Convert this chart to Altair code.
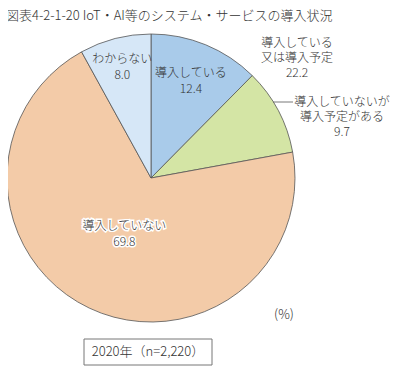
import altair as alt
import pandas as pd

# ---- data ----
categories = ["導入している", "導入していないが導入予定がある", "導入していない", "わからない"]
values = [12.4, 9.7, 69.8, 8.0]
label_texts = ["導入している\n12.4", "導入していないが\n導入予定がある\n9.7",
               "導入していない\n69.8", "わからない\n8.0"]
colors = ["#a9cbea", "#d4e5a5", "#f3cba8", "#d6e7f7"]
title_text = "図表4-2-1-20  IoT・AI等のシステム・サービスの導入状況"
group_label = "導入している\n又は導入予定\n22.2"
unit_label = "(%)"
note_label = "2020年（n=2,220）"

df = pd.DataFrame({"cat": categories, "value": values,
                   "idx": list(range(len(values))), "label": label_texts})
df["mid"] = df["value"].cumsum() - df["value"] / 2

CX, CY, R = 143, 170, 144
W, H = 389, 359
FONT = "Noto Sans CJK JP"
FW = 300
TXT = "#333333"
theta_scale = alt.Scale(domain=[0, sum(values)])

base = alt.Chart(df)

pie = base.mark_arc(radius=R, stroke="#555555", strokeWidth=0.8).encode(
    theta=alt.Theta("value:Q", stack=True, scale=theta_scale),
    color=alt.Color("cat:N", scale=alt.Scale(domain=categories, range=colors), legend=None),
    order=alt.Order("idx:Q"),
    x=alt.value(CX), y=alt.value(CY),
)

layers = [pie]
inside = {0: 105, 3: 115, 2: 62}
for i, r in inside.items():
    enc = dict(theta=alt.Theta("mid:Q", stack=None, scale=theta_scale),
               text="label:N", x=alt.value(CX), y=alt.value(CY))
    common = dict(radius=r, font=FONT, fontSize=12, fontWeight=FW, lineBreak="\n",
                  lineHeight=16, align="center", baseline="middle", dy=-8)
    if i == 2:
        layers.append(base.transform_filter(f"datum.idx == {i}").mark_text(
            color="white", stroke="white", strokeWidth=3, **common).encode(**enc))
    layers.append(base.transform_filter(f"datum.idx == {i}").mark_text(
        color=TXT, **common).encode(**enc))

# outside label with leader line for the green slice
layers.append(base.transform_filter("datum.idx == 1").mark_text(
    font=FONT, fontSize=12, fontWeight=FW, color=TXT, lineBreak="\n", lineHeight=15,
    align="center", baseline="middle").encode(text="label:N", x=alt.value(334), y=alt.value(94)))
layers.append(base.transform_filter("datum.idx == 1").mark_rule(
    color="#555555", strokeWidth=0.8).encode(x=alt.value(265), x2=alt.value(285), y=alt.value(94)))

ann = alt.Chart(pd.DataFrame({"t": [group_label]})).mark_text(
    font=FONT, fontSize=12, fontWeight=FW, color=TXT, lineBreak="\n", lineHeight=15,
    align="center", baseline="middle").encode(text="t:N", x=alt.value(289), y=alt.value(35))
layers.append(ann)

title = alt.Chart(pd.DataFrame({"t": [title_text]})).mark_text(
    font=FONT, fontSize=13, fontWeight=FW, color=TXT, align="left", baseline="top").encode(
    text="t:N", x=alt.value(-2), y=alt.value(2))
layers.append(title)

unit = alt.Chart(pd.DataFrame({"t": [unit_label]})).mark_text(
    font=FONT, fontSize=13, fontWeight=FW, color=TXT, align="center", baseline="middle").encode(
    text="t:N", x=alt.value(276), y=alt.value(307))
layers.append(unit)

box = alt.Chart(pd.DataFrame({"t": [note_label]})).mark_rect(
    fill="white", stroke="#777777", strokeWidth=1).encode(
    x=alt.value(76), x2=alt.value(204), y=alt.value(331), y2=alt.value(357))
layers.append(box)
note = alt.Chart(pd.DataFrame({"t": [note_label]})).mark_text(
    font=FONT, fontSize=13, fontWeight=FW, color=TXT, align="center", baseline="middle").encode(
    text="t:N", x=alt.value(140), y=alt.value(344))
layers.append(note)

chart = alt.layer(*layers).properties(
    width=W, height=H, autosize=alt.AutoSizeParams(type="none"), padding=0
).configure_view(stroke=None)

chart.save("out.html", embed_options={"renderer": "svg", "actions": False})
